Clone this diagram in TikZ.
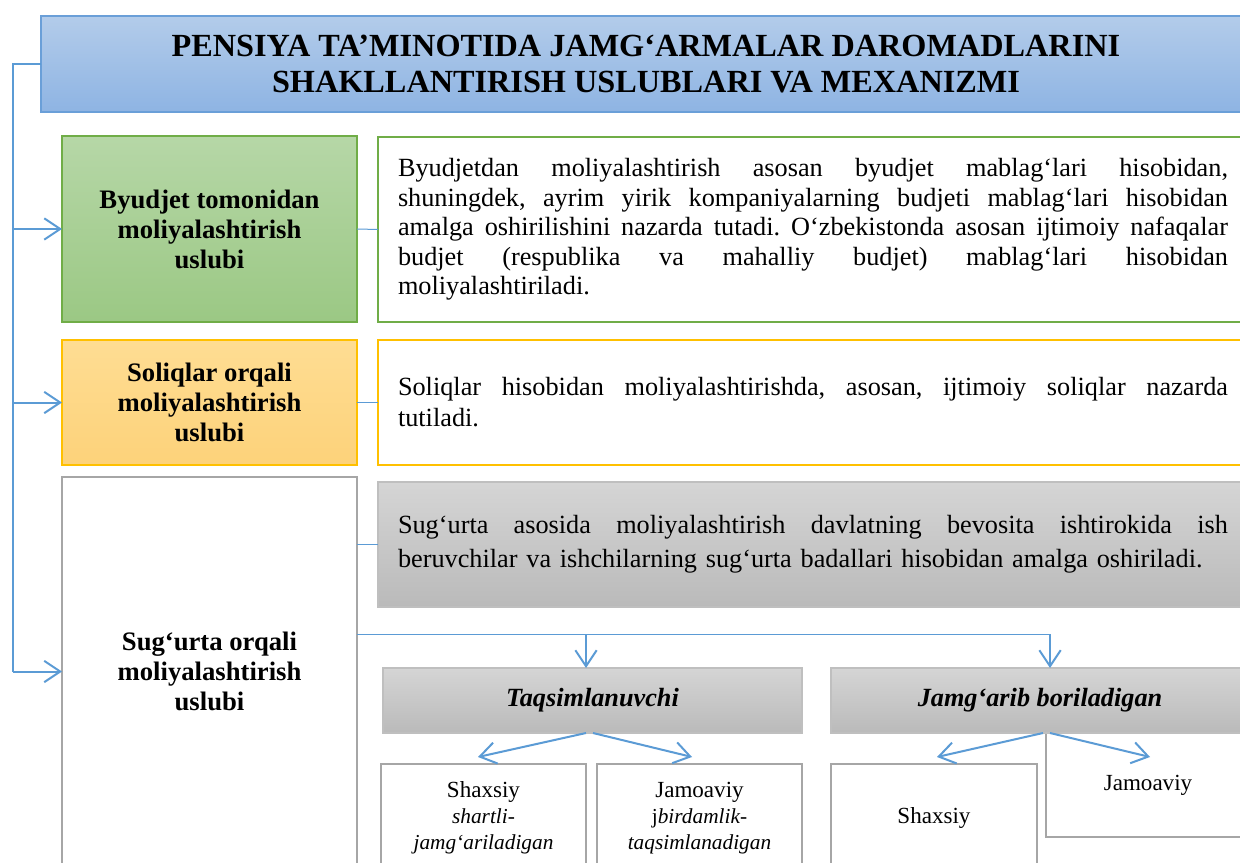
\documentclass[tikz,border=0pt]{standalone}
\usepackage{fontspec}
\setmainfont{Liberation Serif}
\usetikzlibrary{arrows.meta,calc}
\definecolor{cblue}{HTML}{5B9BD5}
\definecolor{ctitleborder}{HTML}{6A9FD8}
\definecolor{ctitletop}{HTML}{B3CCEA}
\definecolor{ctitlebot}{HTML}{8EB4E3}
\definecolor{cgreen}{HTML}{70AD47}
\definecolor{cgreentop}{HTML}{B6D7A7}
\definecolor{cgreenbot}{HTML}{9BC884}
\definecolor{corange}{HTML}{FFC000}
\definecolor{corangetop}{HTML}{FEDD93}
\definecolor{corangebot}{HTML}{FDD27A}
\definecolor{cgrayb}{HTML}{A6A6A6}
\definecolor{cgrayl}{HTML}{BFBFBF}
\definecolor{cgraytop}{HTML}{D5D5D5}
\definecolor{cgraybot}{HTML}{BABABA}
\frenchspacing
\newcommand{\jline}[1]{\leavevmode\hbox to 622.5pt{\spaceskip=0.25em plus 1fil\relax\xspaceskip=\spaceskip #1}}
\begin{document}
\begin{tikzpicture}[x=0.75pt,y=-0.75pt,
  span/.style args={#1/#2/#3/#4}{at={(0.5*#1+0.5*#3,0.5*#2+0.5*#4)},
    minimum width={(#3-#1)*0.75pt}, minimum height={(#4-#2)*0.75pt}},
  box/.style={draw, line width=1.5pt, inner sep=0pt, outer sep=0pt, align=center},
  titlebox/.style={box, draw=ctitleborder, top color=ctitletop, bottom color=ctitlebot,
    font=\fontsize{24.2}{27.5}\selectfont\bfseries},
  leftbox/.style={box, font=\fontsize{20}{22.5}\selectfont\bfseries},
  greenbox/.style={leftbox, draw=cgreen, top color=cgreentop, bottom color=cgreenbot},
  orangebox/.style={leftbox, draw=corange, top color=corangetop, bottom color=corangebot},
  whitebox/.style={leftbox, draw=cgrayb, fill=white},
  desc/.style={box, fill=white, text width=622.5pt, align=left},
  graybar/.style={box, line width=1pt, draw=cgrayl, top color=cgraytop, bottom color=cgraybot,
    font=\fontsize{19.7}{22}\selectfont\bfseries\itshape},
  subbox/.style={box, draw=cgrayb, fill=white, font=\fontsize{17.3}{19.5}\selectfont},
  bl/.style={draw=cblue, line width=1.5pt},
  thinbl/.style={draw=cblue, line width=0.75pt},
  arr/.style={bl, -{Straight Barb[length=12pt,width=16pt]}},
]
\useasboundingbox (0,0) rectangle (1240,863);
\clip (0,0) rectangle (1240,863);
\fill[white] (0,0) rectangle (1240,863);

% title
\node[titlebox, span=41/16/1251/112] (title)
  {PENSIYA TA’MINOTIDA JAMG‘ARMALAR DAROMADLARINI\\SHAKLLANTIRISH USLUBLARI VA MEXANIZMI};

% left boxes
\node[greenbox, span=62/136/357/322] (b1) {Byudjet tomonidan\\moliyalashtirish\\uslubi};
\node[orangebox, span=62/340/357/465] (b2) {Soliqlar orqali\\moliyalashtirish\\uslubi};
\node[whitebox, span=62/477/357/866] (b3) {Sug‘urta orqali\\moliyalashtirish\\uslubi};

% description boxes
\node[desc, draw=cgreen, span=378/137/1248/322, font=\fontsize{19.7}{22.2}\selectfont] (d1)
  {\jline{Byudjetdan moliyalashtirish asosan byudjet mablag‘lari hisobidan,}\\
   \jline{shuningdek, ayrim yirik kompaniyalarning budjeti mablag‘lari hisobidan}\\
   \jline{amalga oshirilishini nazarda tutadi. O‘zbekistonda asosan ijtimoiy nafaqalar}\\
   \jline{budjet (respublika va mahalliy budjet) mablag‘lari hisobidan}\\
   moliyalashtiriladi.};
\node[desc, draw=corange, span=378/340/1248/465, font=\fontsize{19.7}{23.3}\selectfont] (d2)
  {\jline{Soliqlar hisobidan moliyalashtirishda, asosan, ijtimoiy soliqlar nazarda}\\
   tutiladi.};
\node[desc, line width=1pt, draw=cgrayl, top color=cgraytop, bottom color=cgraybot,
  span=378/482/1248/607, font=\fontsize{19.7}{25.5}\selectfont] (d3)
  {\jline{Sug‘urta asosida moliyalashtirish davlatning bevosita ishtirokida ish}\\
   beruvchilar va ishchilarning sug‘urta badallari hisobidan amalga oshiriladi.};

% lower part
\node[subbox, span=1046/733/1250/837] (s4) {Jamoaviy};
\node[graybar, span=383/668/802/733] (T) {Taqsimlanuvchi};
\node[graybar, span=831/668/1249/733] (J) {Jamg‘arib boriladigan};
\node[subbox, span=381/764/586/872] (s1)
  {Shaxsiy\\{\fontsize{16}{19.5}\selectfont\itshape shartli-}\\{\fontsize{16}{19.5}\selectfont\itshape jamg‘ariladigan}};
\node[subbox, span=597/764/802/872] (s2)
  {Jamoaviy\\{\fontsize{16}{19.5}\selectfont j\itshape birdamlik-}\\{\fontsize{16}{19.5}\selectfont\itshape taqsimlanadigan}};
\node[subbox, span=831/764/1037/872] (s3) {Shaxsiy};

% left spine
\coordinate (sp) at (13,64);
\draw[bl] (title.west) -- (sp) -- (sp |- b3.west);
\draw[arr] (sp |- b1.west) -- (b1.west);
\draw[arr] (sp |- b2.west) -- (b2.west);
\draw[arr] (sp |- b3.west) -- (b3.west);

% thin links
\draw[thinbl] (b1.east) -- (d1.west);
\draw[thinbl] (b2.east) -- (d2.west);
\draw[thinbl] (b3.east |- d3.west) -- (d3.west);

% bus to the two kinds
\coordinate (bus) at (357,634);
\coordinate (tin) at ($(T.north)+(-6.5,0)$);
\coordinate (jin) at ($(J.north)+(10,0)$);
\draw[thinbl] (bus) -- (bus -| jin);
\draw[arr] (bus -| tin) -- (tin);
\draw[arr] (bus -| jin) -- (jin);

% splits
\draw[arr] ($(T.south)+(-6.5,0)$) -- ($(s1.north)+(-5.5,-7)$);
\draw[arr] ($(T.south)+(0.5,0)$) -- ($(s2.north)+(-7.5,-7)$);
\draw[arr] ($(J.south)+(3,0)$) -- ($(s3.north)+(3,-7)$);
\draw[arr] ($(J.south)+(10,0)$) -- ($(s4.north)+(2,24)$);
\end{tikzpicture}
\end{document}
